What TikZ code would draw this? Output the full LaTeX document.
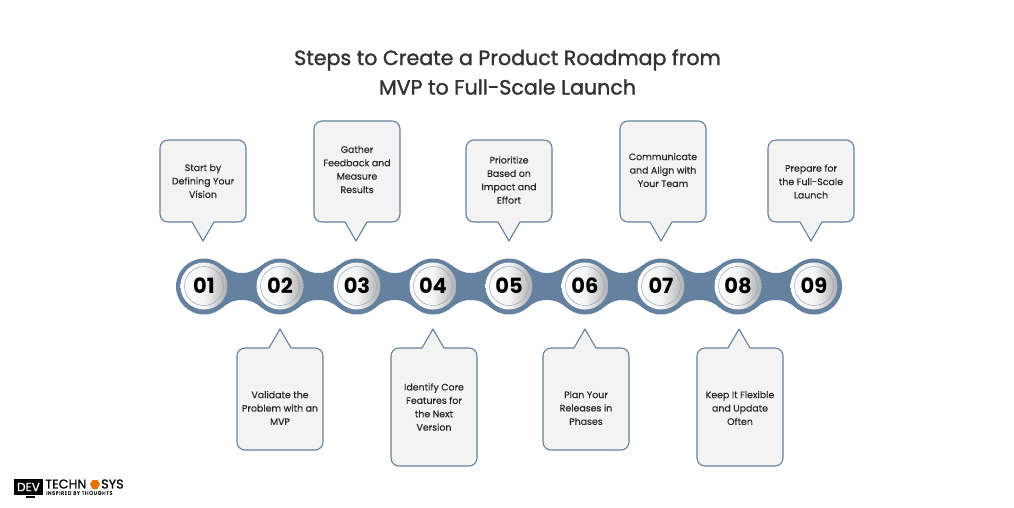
\documentclass[tikz,border=0pt]{standalone}
\usepackage{fontspec}
\setmainfont{Poppins}
\newfontfamily\titlefont[FakeBold=1.4]{Poppins}
\newfontfamily\bodyfont[FakeBold=0.15]{Poppins}
\newfontfamily\logofont[FakeBold=0.8]{Poppins}
\newfontfamily\tagfont[LetterSpace=12,FakeBold=0.3]{Poppins}
\usetikzlibrary{shapes.geometric,calc}
\definecolor{steel}{HTML}{64819F}
\definecolor{boxfill}{HTML}{F3F3F3}
\definecolor{ink}{HTML}{262626}
\definecolor{titlec}{HTML}{333333}
\definecolor{ringc}{HTML}{8FA5BF}
\tikzset{
  callout/.style={draw=steel,line width=1.1pt,fill=boxfill,line join=round},
  calltext/.style={font=\fontsize{9.4}{13.4}\bodyfont,text=ink,align=center,inner sep=0pt},
  titletext/.style={font=\fontsize{20.6}{29.5}\titlefont,text=titlec,align=center,inner sep=0pt},
  numtext/.style={font=\fontsize{21}{21}\selectfont\bfseries,text=black,inner sep=0pt},
  disc/.style={circle,minimum size=47pt,inner sep=0pt,left color=white,right color=white!68!black,middle color=white!96!black},
  ring/.style={circle,minimum size=39pt,inner sep=0pt,draw=ringc,line width=.5pt},
}
\newcommand{\calloutdown}[6]{% name, left, top, right, bottom, tip x
  \draw[callout] (#2+8,#3) -- (#4-8,#3) arc[start angle=-90,end angle=0,radius=8] -- (#4,#5-8) arc[start angle=0,end angle=90,radius=8] -- (#6+11,#5) -- (#6,#5+19) -- (#6-11,#5) -- (#2+8,#5) arc[start angle=90,end angle=180,radius=8] -- (#2,#3+8) arc[start angle=180,end angle=270,radius=8] -- cycle;
  \coordinate (#1) at ({(#2+#4)/2},{(#3+#5)/2});
}
\newcommand{\calloutup}[6]{%
  \draw[callout] (#2+8,#3) -- (#6-11,#3) -- (#6,#3-19) -- (#6+11,#3) -- (#4-8,#3) arc[start angle=-90,end angle=0,radius=8] -- (#4,#5-8) arc[start angle=0,end angle=90,radius=8] -- (#2+8,#5) arc[start angle=90,end angle=180,radius=8] -- (#2,#3+8) arc[start angle=180,end angle=270,radius=8] -- cycle;
  \coordinate (#1) at ({(#2+#4)/2},{(#3+#5)/2});
}
\begin{document}
\begin{tikzpicture}[x=1pt,y=-1pt]
\useasboundingbox (0,0) rectangle (1014,507);
\fill[white] (0,0) rectangle (1014,507);
\node[titletext] (title) at (507.5,72) {Steps to Create a Product Roadmap from\\MVP to Full-Scale Launch};

% callouts
\calloutdown{b1}{160}{140}{246}{222}{203}
\calloutdown{b3}{314}{121}{400}{222}{356}
\calloutdown{b5}{466}{140}{552}{222}{509}
\calloutdown{b7}{620}{121}{706}{222}{661}
\calloutdown{b9}{768}{140}{854}{222}{811}
\calloutup{b2}{237}{348}{323}{450}{280}
\calloutup{b4}{391}{348}{477}{466}{433}
\calloutup{b6}{543}{348}{629}{450}{585}
\calloutup{b8}{697}{348}{783}{466}{739}

\node[calltext] (t1) at (203,181) {Start by\\Defining Your\\Vision};
\node[calltext] (t3) at (357,169.5) {Gather\\Feedback and\\Measure\\Results};
\node[calltext] (t5) at (509,180) {Prioritize\\Based on\\Impact and\\Effort};
\node[calltext] (t7) at (663,170) {Communicate\\and Align with\\Your Team};
\node[calltext] (t9) at (811,181.5) {Prepare for\\the Full-Scale\\Launch};
\node[calltext] (t2) at (280,408) {Validate the\\Problem with an\\MVP};
\node[calltext] (t4) at (434,407) {Identify Core\\Features for\\the Next\\Version};
\node[calltext] (t6) at (586,408) {Plan Your\\Releases in\\Phases};
\node[calltext] (t8) at (740,408) {Keep It Flexible\\and Update\\Often};

% chain body
\foreach \xa/\xb in {204/280,280/357,357/433,433/509,509/585,585/661,661/738,738/814}{
  \fill[steel] (\xa+18,265) .. controls (\xa+25,270) and (\xa+30,273) .. ({(\xa+\xb)/2},273)
     .. controls (\xb-30,273) and (\xb-25,270) .. (\xb-18,265)
     -- (\xb-18,308) .. controls (\xb-25,302) and (\xb-30,300) .. ({(\xa+\xb)/2},300)
     .. controls (\xa+30,300) and (\xa+25,302) .. (\xa+18,308) -- cycle;
}
\foreach \n/\x/\lab in {1/204/01,2/280/02,3/357/03,4/433/04,5/509/05,6/585/06,7/661/07,8/738/08,9/814/09}{
  \fill[steel] (\x,286.5) circle[radius=28];
  \node[disc] (d\n) at (\x,286) {};
  \node[ring] (r\n) at (\x,286) {};
  \node[numtext] (n\n) at (\x,285.5) {\lab};
}

% logo
\fill[black] (14,479) rectangle (43,495);
\fill[black] (26,496) rectangle (35,497.5);
\node[inner sep=0pt,text=white,font=\fontsize{12}{12}\logofont] (logod) at (28.5,487) {DEV};
\node[inner sep=0pt,anchor=west,text=black,font=\fontsize{12.8}{12.8}\logofont] (logot) at (45,484) {TECHN};
\node[regular polygon,regular polygon sides=6,fill=orange!90!black,minimum size=10pt,inner sep=0pt] (logoh) at (95,484.5) {};
\node[inner sep=0pt,anchor=west,text=black,font=\fontsize{12.8}{12.8}\logofont] (logos) at (101,484) {SYS};
\node[inner sep=0pt,anchor=west,text=black,font=\fontsize{5}{5}\tagfont] (logob) at (46,493) {INSPIRED BY THOUGHTS};
\end{tikzpicture}
\end{document}
